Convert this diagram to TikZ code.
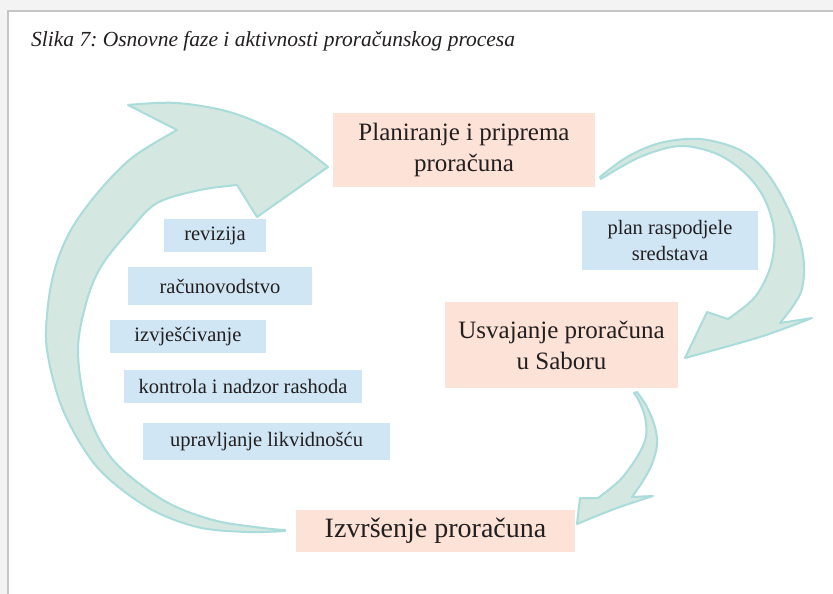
\documentclass[tikz,border=0pt]{standalone}
\usepackage{fontspec}
\setmainfont{Liberation Serif}
\frenchspacing
\definecolor{pinkbox}{HTML}{FDE2D7}
\definecolor{bluebox}{HTML}{D0E6F5}
\definecolor{arrfill}{HTML}{D4E7E1}
\definecolor{arrline}{HTML}{A9DCDA}
\definecolor{pagebg}{HTML}{F3F3F3}
\definecolor{frameln}{HTML}{C6C6C6}
\definecolor{txt}{HTML}{231F20}
\tikzset{
  phase/.style={fill=pinkbox, inner sep=0pt, align=center, text=txt,
    font=\fontsize{25}{31}\selectfont},
  act/.style={fill=bluebox, inner sep=0pt, align=center, text=txt,
    font=\fontsize{20.5}{26}\selectfont},
  arr/.style={fill=arrfill, draw=arrline, line width=2pt, line join=round}
}
\begin{document}
\begin{tikzpicture}[x=1pt,y=-1pt]
\useasboundingbox (0,0) rectangle (833,594);
% page
\fill[pagebg] (0,0) rectangle (833,594);
\fill[white] (8,11) rectangle (833,594);
\draw[frameln, line width=1.2pt] (8,594) -- (8,11) -- (833,11);

% title
\node[anchor=west, inner sep=0pt, text=txt, font=\fontsize{21.5}{24}\selectfont\itshape] (title) at (31,41) {Slika 7: Osnovne faze i aktivnosti proračunskog procesa};

% big left arrow
\filldraw[arr]
  plot[smooth, tension=0.55] coordinates {(285,531) (247,532) (197,527) (147,507) (97,467) (63,410) (47,350) (48,305) (56,265) (72,228) (100,190) (133,157) (177,130)}
  -- (128,105)
  -- plot[smooth, tension=0.55] coordinates {(128,105) (177,103) (233,113) (287,137) (328,167)}
  -- (257,217) -- (237,185)
  -- plot[smooth, tension=0.55] coordinates {(237,185) (200,190) (157,203) (130,230) (102,265) (87,300) (78,350) (87,410) (113,460) (163,500) (213,520) (263,528) (285,530)}
  -- cycle;

% right arrow 1
\filldraw[arr]
  plot[smooth, tension=0.55] coordinates {(600,177) (627,157) (660,143) (700,139) (740,150) (767,173) (790,213) (803,255) (801,292) (780,323)}
  -- (812,318)
  -- plot[smooth, tension=0.55] coordinates {(812,318) (760,337) (685,358)}
  -- (707,312) -- (728,319)
  -- plot[smooth, tension=0.55] coordinates {(728,319) (755,297) (771,265) (774,230) (764,198) (745,173) (717,154) (680,146) (640,157) (601,179)}
  -- cycle;

% right arrow 2
\filldraw[arr]
  plot[smooth, tension=0.55] coordinates {(637,392) (647,407) (655,427) (657,445) (652,464) (643,481) (632,497)}
  -- (653,496)
  -- plot[smooth, tension=0.55] coordinates {(653,496) (617,508) (577,524)}
  -- (580,498) -- (598,498)
  -- plot[smooth, tension=0.55] coordinates {(598,498) (620,480) (637,457) (646,437) (645,417) (639,401) (634,393)}
  -- cycle;

% phases
\node[phase, minimum width=262pt, minimum height=74pt] (plan) at (464,150) {Planiranje i priprema\\proračuna};
\node[phase, minimum width=233pt, minimum height=86pt] (usv) at (561.5,345) {Usvajanje proračuna\\u Saboru};
\node[phase, minimum width=279pt, minimum height=42pt, font=\fontsize{28}{32}\selectfont] (izv) at (435.5,531) {Izvršenje proračuna};

% activities
\node[act, minimum width=176pt, minimum height=59pt] (rasp) at (670,240.5) {plan raspodjele\\sredstava};
\node[act, minimum width=102pt, minimum height=33pt] (rev) at (215,235.5) {revizija};
\node[act, minimum width=184pt, minimum height=38pt] (rac) at (220,286) {računovodstvo};
\node[act, minimum width=156pt, minimum height=33pt] (izvj) at (188,336.5) {izvješćivanje};
\node[act, minimum width=238pt, minimum height=33pt] (kon) at (243,386.5) {kontrola i nadzor rashoda};
\node[act, minimum width=247pt, minimum height=37pt] (upr) at (266.5,441.5) {upravljanje likvidnošću};
\end{tikzpicture}
\end{document}
